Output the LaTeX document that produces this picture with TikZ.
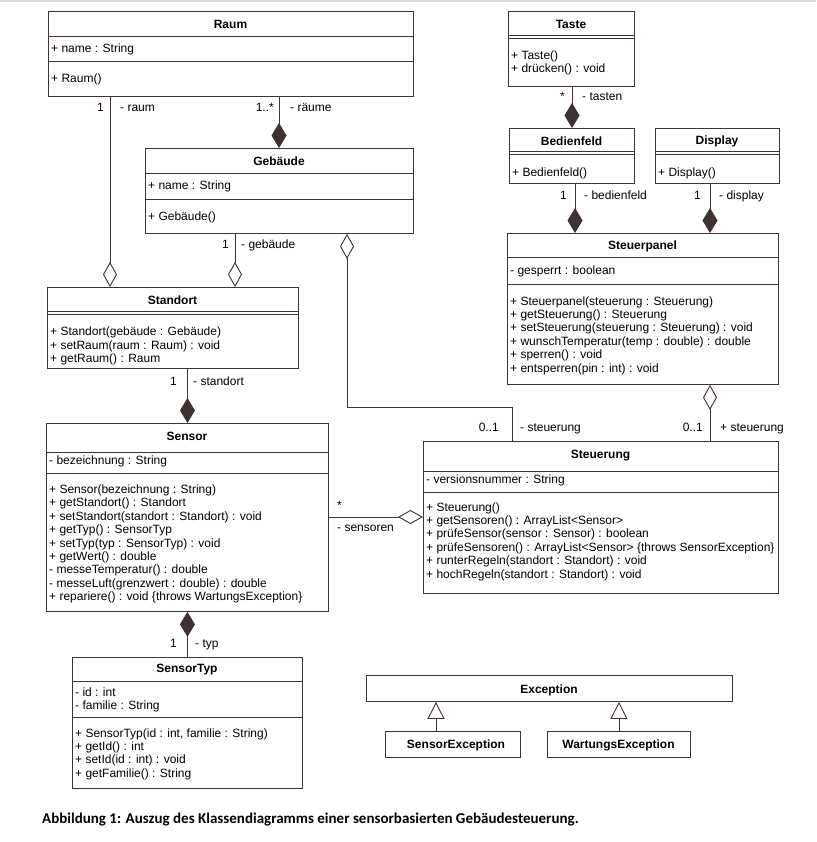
\documentclass[tikz,border=0pt]{standalone}
\usepackage{fontspec}
\setmainfont{Liberation Sans}
\newfontfamily\captionfont{Carlito}
\usepackage{tikz}
\usepackage{xcolor}
\usetikzlibrary{arrows.meta}

\definecolor{umlline}{RGB}{62,50,50}
\newcommand{\umlfont}{\fontsize{12}{13.4}\selectfont}

\tikzset{
    classbox/.style={draw=umlline, line width=0.9pt, fill=white, inner sep=0pt, anchor=north west},
    classname/.style={font=\bfseries\umlfont, inner sep=0pt},
    members/.style={font=\umlfont, align=left, anchor=west, inner sep=0pt},
    rolelabel/.style={font=\umlfont, inner sep=0pt},
    umlconn/.style={draw=umlline, line width=0.9pt},
    aggr/.style={umlconn, {Diamond[open, length=25pt, width=14pt]}-},
    compo/.style={umlconn, {Diamond[length=25pt, width=15pt]}-},
    inherit/.style={umlconn, -{Triangle[open, length=17pt, width=17pt]}}
}

\begin{document}
\begin{tikzpicture}[x=1pt, y=-1pt]
        \fill[white] (0,0) rectangle (816,842);
        \useasboundingbox (0,0) rectangle (816,842);
        \fill[gray!30] (0,0) rectangle (816,2);

        % Raum
        \node[classbox, minimum width=365pt, minimum height=85pt] (raum) at (48,11) {};
        \draw[umlconn] (48,36) -- (413,36) (48,61) -- (413,61);
        \node[classname] (raumname) at (230.5,24) {Raum};
        \node[members] (raumattr) at (51,49) {+ name : String};
        \node[members] (raumops) at (51,79) {+ Raum()};

        % Gebaeude
        \node[classbox, minimum width=268pt, minimum height=85pt] (gebaeude) at (145,148) {};
        \draw[umlconn] (145,173) -- (413,173) (145,199) -- (413,199);
        \node[classname] (gebaeudename) at (279,161.5) {Gebäude};
        \node[members] (gebaeudeattr) at (148,186) {+ name : String};
        \node[members] (gebaeudeops) at (148,217) {+ Gebäude()};

        % Standort
        \node[classbox, minimum width=251pt, minimum height=81pt] (standort) at (47,287) {};
        \draw[umlconn] (47,311) -- (298,311) (47,314.5) -- (298,314.5);
        \node[classname] (standortname) at (172.5,300) {Standort};
        \node[members] (standortops) at (50,346) {
            + Standort(gebäude : Gebäude)\\
            + setRaum(raum : Raum) : void\\
            + getRaum() : Raum
        };

        % Sensor
        \node[classbox, minimum width=282pt, minimum height=188pt] (sensor) at (46,423) {};
        \draw[umlconn] (46,452) -- (328,452) (46,473) -- (328,473);
        \node[classname] (sensorname) at (187,436) {Sensor};
        \node[members] (sensorattr) at (49,461) {- bezeichnung : String};
        \node[members] (sensorops) at (49,544) {
            + Sensor(bezeichnung : String)\\
            + getStandort() : Standort\\
            + setStandort(standort : Standort) : void\\
            + getTyp() : SensorTyp\\
            + setTyp(typ : SensorTyp) : void\\
            + getWert() : double\\
            - messeTemperatur() : double\\
            - messeLuft(grenzwert : double) : double\\
            + repariere() : void \{throws WartungsException\}
        };

        % SensorTyp
        \node[classbox, minimum width=230pt, minimum height=131pt] (sensortyp) at (72,657) {};
        \draw[umlconn] (72,681) -- (302,681) (72,717) -- (302,717);
        \node[classname] (sensortypname) at (187,670) {SensorTyp};
        \node[members] (sensortypattr) at (75,700) {
            - id : int\\
            - familie : String
        };
        \node[members] (sensortypops) at (75,754) {
            + SensorTyp(id : int, familie : String)\\
            + getId() : int\\
            + setId(id : int) : void\\
            + getFamilie() : String
        };

        % Taste
        \node[classbox, minimum width=126pt, minimum height=75pt] (taste) at (508,11) {};
        \draw[umlconn] (508,35) -- (634,35) (508,38.5) -- (634,38.5);
        \node[classname] (tastename) at (571,24) {Taste};
        \node[members] (tasteops) at (511,63) {
            + Taste()\\
            + drücken() : void
        };

        % Bedienfeld
        \node[classbox, minimum width=125pt, minimum height=55pt] (bedienfeld) at (509,128) {};
        \draw[umlconn] (509,151) -- (634,151) (509,154.5) -- (634,154.5);
        \node[classname] (bedienfeldname) at (571.5,141) {Bedienfeld};
        \node[members] (bedienfeldops) at (512,173) {+ Bedienfeld()};

        % Display
        \node[classbox, minimum width=124pt, minimum height=55pt] (display) at (655,128) {};
        \draw[umlconn] (655,151) -- (779,151) (655,154.5) -- (779,154.5);
        \node[classname] (displayname) at (717,141) {Display};
        \node[members] (displayops) at (658,173) {+ Display()};

        % Steuerpanel
        \node[classbox, minimum width=271pt, minimum height=151pt] (steuerpanel) at (507,233) {};
        \draw[umlconn] (507,257) -- (778,257) (507,284) -- (778,284);
        \node[classname] (steuerpanelname) at (642.5,246) {Steuerpanel};
        \node[members] (steuerpanelattr) at (510,271) {- gesperrt : boolean};
        \node[members] (steuerpanelops) at (510,335.5) {
            + Steuerpanel(steuerung : Steuerung)\\
            + getSteuerung() : Steuerung\\
            + setSteuerung(steuerung : Steuerung) : void\\
            + wunschTemperatur(temp : double) : double\\
            + sperren() : void\\
            + entsperren(pin : int) : void
        };

        % Steuerung
        \node[classbox, minimum width=355pt, minimum height=152pt] (steuerung) at (423,441) {};
        \draw[umlconn] (423,471) -- (778,471) (423,492) -- (778,492);
        \node[classname] (steuerungname) at (600.5,456) {Steuerung};
        \node[members] (steuerungattr) at (426,480) {- versionsnummer : String};
        \node[members] (steuerungops) at (426,541.5) {
            + Steuerung()\\
            + getSensoren() : ArrayList<Sensor>\\
            + prüfeSensor(sensor : Sensor) : boolean\\
            + prüfeSensoren() : ArrayList<Sensor> \{throws SensorException\}\\
            + runterRegeln(standort : Standort) : void\\
            + hochRegeln(standort : Standort) : void
        };

        % Exceptions
        \node[classbox, minimum width=366pt, minimum height=26pt] (exception) at (366,675) {};
        \node[classname] (exceptionname) at (549,690) {Exception};
        \node[classbox, minimum width=135pt, minimum height=26pt] (sensorexc) at (385,731) {};
        \node[classname] (sensorexcname) at (456,745) {SensorException};
        \node[classbox, minimum width=143pt, minimum height=26pt] (wartungsexc) at (547,731) {};
        \node[classname] (wartungsexcname) at (618.5,745) {WartungsException};

        % Connectors
        \draw[aggr] (standort.north -| 110,0) -- (raum.south -| 110,0);
        \draw[compo] (gebaeude.north -| 279,0) -- (raum.south -| 279,0);
        \draw[aggr] (standort.north -| 235,0) -- (gebaeude.south -| 235,0);
        \draw[aggr] (gebaeude.south -| 347,0) -- (347,407.5) -| (steuerung.north -| 512,0);
        \draw[compo] (sensor.north) -- (standort.south -| sensor.north);
        \draw[compo] (sensor.south) -- (sensortyp.north);
        \draw[aggr] (steuerung.west |- 0,517) -- (sensor.east |- 0,517);
        \draw[compo] (bedienfeld.north -| 572,0) -- (taste.south -| 572,0);
        \draw[compo] (steuerpanel.north -| 575,0) -- (bedienfeld.south -| 575,0);
        \draw[compo] (steuerpanel.north -| 710,0) -- (display.south -| 710,0);
        \draw[aggr] (steuerpanel.south -| 710,0) -- (steuerung.north -| 710,0);
        \draw[inherit] (sensorexc.north -| 436,0) -- (exception.south -| 436,0);
        \draw[inherit] (wartungsexc.north) -- (exception.south -| wartungsexc.north);

        % Multiplicities and roles
        \node[rolelabel, anchor=base east] (raummult) at (104,112) {1};
        \node[rolelabel, anchor=base west] (raumrole) at (120,112) {- raum};
        \node[rolelabel, anchor=base east] (raeumemult) at (274,112) {1..*};
        \node[rolelabel, anchor=base west] (raeumerole) at (290,112) {- räume};
        \node[rolelabel, anchor=base east] (gebaeudemult) at (229,248) {1};
        \node[rolelabel, anchor=base west] (gebaeuderole) at (241,248) {- gebäude};
        \node[rolelabel, anchor=base east] (standortmult) at (177,385) {1};
        \node[rolelabel, anchor=base west] (standortrole) at (193,385) {- standort};
        \node[rolelabel, anchor=base east] (typmult) at (177,647) {1};
        \node[rolelabel, anchor=base west] (typrole) at (195,647) {- typ};
        \node[rolelabel, anchor=base east] (tastenmult) at (565,101) {*};
        \node[rolelabel, anchor=base west] (tastenrole) at (582,101) {- tasten};
        \node[rolelabel, anchor=base east] (bedienfeldmult) at (567,200) {1};
        \node[rolelabel, anchor=base west] (bedienfeldrole) at (584,200) {- bedienfeld};
        \node[rolelabel, anchor=base east] (displaymult) at (701,200) {1};
        \node[rolelabel, anchor=base west] (displayrole) at (719,200) {- display};
        \node[rolelabel, anchor=base east] (steuerungmult) at (499,431) {0..1};
        \node[rolelabel, anchor=base west] (steuerungrole) at (520,431) {- steuerung};
        \node[rolelabel, anchor=base east] (panelmult) at (703,431) {0..1};
        \node[rolelabel, anchor=base west] (panelrole) at (720,431) {+ steuerung};
        \node[rolelabel, anchor=base west] (sensorenmult) at (337,509) {*};
        \node[rolelabel, anchor=base west] (sensorenrole) at (337,531) {- sensoren};

        % Caption
        \node[anchor=base west, inner sep=0pt, font=\captionfont\bfseries\fontsize{15}{17}\selectfont] (caption) at (42,823)
            {Abbildung 1: Auszug des Klassendiagramms einer sensorbasierten Gebäudesteuerung.};
\end{tikzpicture}
\end{document}
